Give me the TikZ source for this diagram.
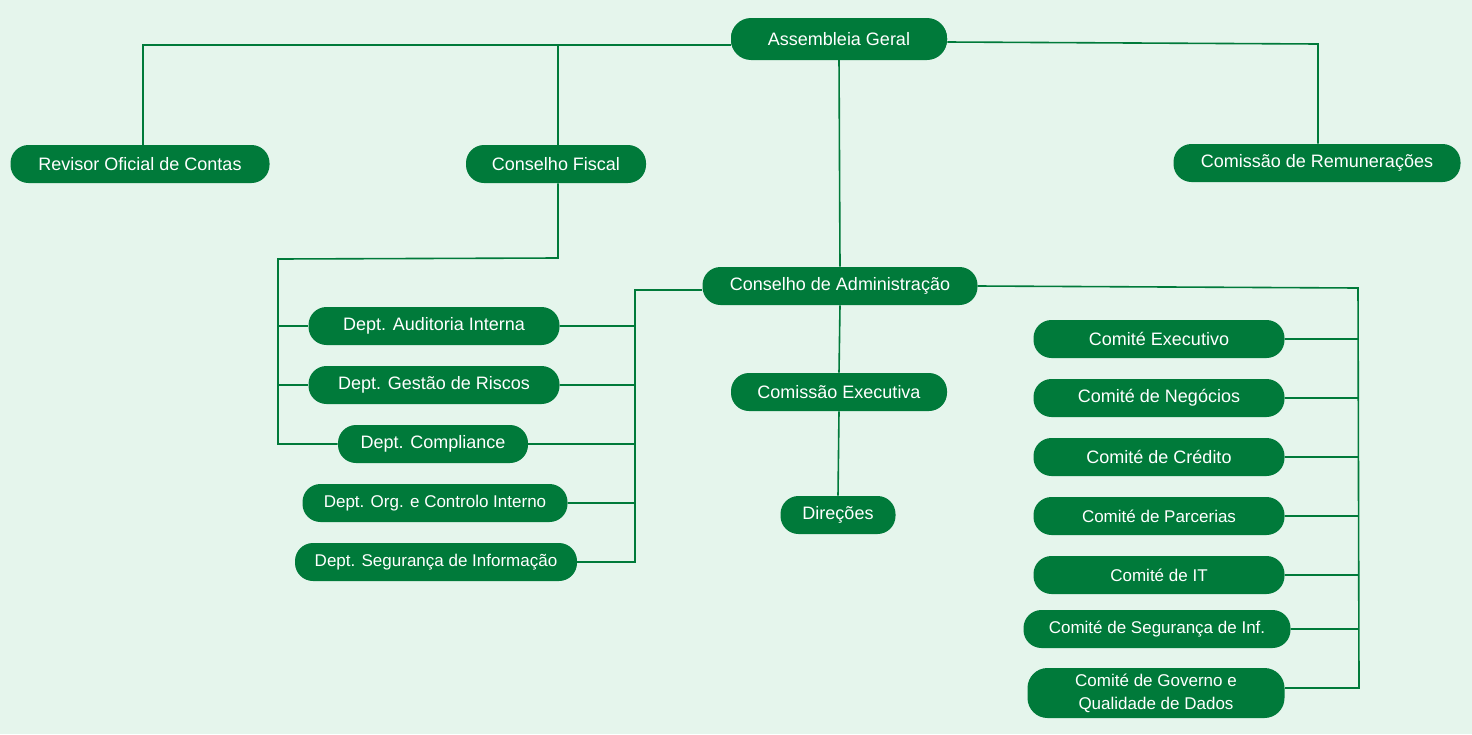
\documentclass[tikz,border=0pt]{standalone}
\usepackage{fontspec}
\setmainfont{Liberation Sans}
\begin{document}
\begin{tikzpicture}[x=0.5pt,y=-0.5pt,
 box/.style={fill=G,draw=none,rounded corners=9pt,text=white,font=\fontsize{9}{10.5}\selectfont,align=center,inner sep=0pt,minimum height=19pt},
 ln/.style={draw=G,line width=0.8pt}]
\definecolor{G}{HTML}{007A3A}
\definecolor{BG}{HTML}{E5F5EC}
\fill[BG] (0,0) rectangle (1472,734);
\useasboundingbox (0,0) rectangle (1472,734);
\newcommand{\bx}[5]{\node[box,minimum width=#4*0.5pt] (#1) at (#2,#3) {#5};}
\bx{ag}{839}{39}{216}{Assembleia Geral}
\node[box,minimum width=108pt,minimum height=21pt,rounded corners=10pt] at (839,39) {Assembleia Geral};
\bx{roc}{140}{164}{259}{Revisor Oficial de Contas}
\bx{cf}{556}{164}{180}{Conselho Fiscal}
\bx{cr}{1317}{163}{287}{Comissão de Remunerações}
\bx{ca}{840}{286}{275}{Conselho de Administração}
\bx{d1}{434}{326}{251}{Dept. Auditoria Interna}
\bx{d2}{434}{385}{251}{Dept. Gestão de Riscos}
\bx{d3}{433}{444}{190}{Dept. Compliance}
\bx{d4}{435}{503}{265}{\fontsize{8.5}{10}\selectfont Dept. Org. e Controlo Interno}
\bx{d5}{436}{562}{282}{\fontsize{8.5}{10}\selectfont Dept. Segurança de Informação}
\bx{ce}{839}{392}{216}{Comissão Executiva}
\bx{di}{838}{515}{115}{Direções}
\bx{c1}{1159}{339}{251}{Comité Executivo}
\bx{c2}{1159}{398}{251}{Comité de Negócios}
\bx{c3}{1159}{457}{251}{Comité de Crédito}
\bx{c4}{1159}{516}{251}{\fontsize{8.5}{10}\selectfont Comité de Parcerias}
\bx{c5}{1159}{575}{251}{\fontsize{8.5}{10}\selectfont Comité de IT}
\bx{c6}{1157}{629}{267}{\fontsize{8.5}{10}\selectfont Comité de Segurança de Inf.}
\node[box,minimum width=128.5pt,minimum height=25pt,rounded corners=10pt,font=\fontsize{8.5}{11.5}\selectfont] (c7) at (1156,693) {Comité de Governo e\\Qualidade de Dados};
\coordinate (a1) at (143,45); \coordinate (a2) at (1318,44);
\draw[ln] (ag.west |- 0,45) -- (a1) -- (roc.north -| a1);
\draw[ln] (558,45) -- (cf.north -| 558,0);
\draw[ln] (ag.east |- 0,42) -- (a2) -- (cr.north -| a2);
\draw[ln] (ag.south) -- (ca.north);
\draw[ln] (cf.south -| 558,0) -- (558,258) -- (278,259) -- (278,444) -- (d3.west |- 0,444);
\draw[ln] (278,326) -- (d1.west |- 0,326);
\draw[ln] (278,385) -- (d2.west |- 0,385);
\coordinate (b1) at (635,290);
\draw[ln] (ca.west |- 0,290) -- (b1) -- (635,562) -- (d5.east |- 0,562);
\foreach \n/\y in {d1/326,d2/385,d3/444,d4/503} \draw[ln] (635,\y) -- (\n.east |- 0,\y);
\draw[ln] (ca.south) -- (ce.north);
\draw[ln] (ce.south) -- (di.north);
\draw[ln] (ca.east |- 0,286) -- (1358,288) -- (1359,688) -- (c7.east |- 0,688);
\foreach \n/\y in {c1/339,c2/398,c3/457,c4/516,c5/575,c6/629} \draw[ln] (1358,\y) -- (\n.east |- 0,\y);
\end{tikzpicture}
\end{document}
